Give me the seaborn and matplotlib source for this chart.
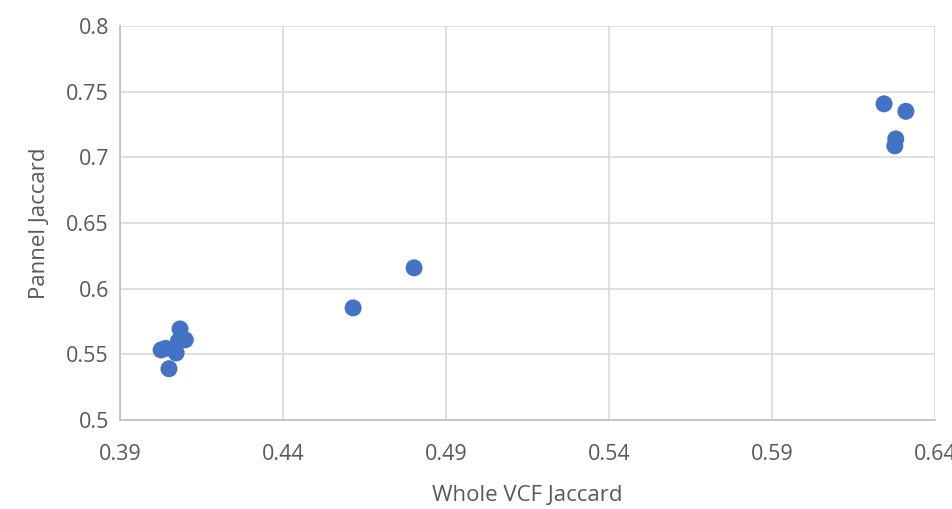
import pandas as pd
import matplotlib.pyplot as plt
import seaborn as sns

whole_vcf = [0.4026, 0.4040, 0.4084, 0.4079, 0.4100, 0.4072, 0.4050,
             0.4615, 0.4802, 0.6244, 0.6311, 0.6280, 0.6277]
pannel = [0.5533, 0.5545, 0.5693, 0.5600, 0.5610, 0.5510, 0.5390,
          0.5853, 0.6158, 0.7407, 0.7350, 0.7140, 0.7087]
x_ticks = [0.39, 0.44, 0.49, 0.54, 0.59, 0.64]
y_ticks = [0.5, 0.55, 0.6, 0.65, 0.7, 0.75, 0.8]

df = pd.DataFrame({'Whole VCF Jaccard': whole_vcf, 'Pannel Jaccard': pannel})

sns.set_style("whitegrid")
plt.rcParams['font.family'] = ['Open Sans', 'DejaVu Sans']

fig = plt.figure(figsize=(9.53, 5.09), dpi=100)
ax = fig.add_axes([0.126, 0.175, 0.855, 0.774])
sns.scatterplot(x='Whole VCF Jaccard', y='Pannel Jaccard', data=df, ax=ax,
                color='#4472C4', s=150, edgecolor='none', zorder=3)

ax.set_xlim(0.39, 0.64)
ax.set_ylim(0.5, 0.8)
ax.set_xticks(x_ticks)
ax.set_yticks(y_ticks)
ax.set_xticklabels([f'{v:g}' for v in x_ticks])
ax.set_yticklabels([f'{v:g}' for v in y_ticks])
ax.tick_params(axis='x', length=0, labelsize=15.5, colors='#595959', pad=17)
ax.tick_params(axis='y', length=0, labelsize=15.5, colors='#595959', pad=8)
ax.grid(color='#d9d9d9', linewidth=1.2)
ax.set_xlabel('Whole VCF Jaccard', fontsize=16, color='#595959', labelpad=15)
ax.set_ylabel('Pannel Jaccard', fontsize=16, color='#595959', labelpad=12)

for side in ['top', 'right']:
    ax.spines[side].set_visible(False)
for side in ['left', 'bottom']:
    ax.spines[side].set_color('#bfbfbf')
    ax.spines[side].set_linewidth(1.2)

fig.savefig('out.png', dpi=100)
